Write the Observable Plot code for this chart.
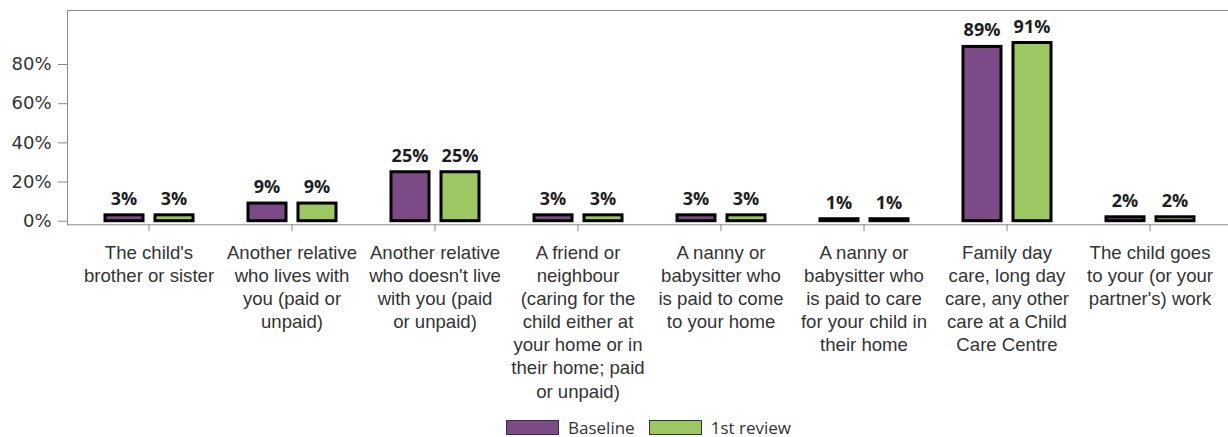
<!DOCTYPE html>
<html><head><meta charset="utf-8">
<script src="https://cdn.jsdelivr.net/npm/d3@7"></script>
<script src="https://cdn.jsdelivr.net/npm/@observablehq/plot@0.6"></script>
<style>
body{margin:0;background:#fff;}
#chart svg{display:block;overflow:hidden}
#chart g[aria-label="y-axis tick"] path, #chart g[aria-label="x-axis tick"] path{stroke:#888;}
#chart g[aria-label="y-axis tick label"], #chart g[aria-label="x-axis tick label"]{fill:#333;}
.legend{display:flex;align-items:center;justify-content:center;padding-left:69px;height:34px;font-family:"Open Sans";font-size:17px;color:#333;box-sizing:border-box}
.sw{width:51px;height:13px;border:1px solid #333;margin-right:9px}
.lab{margin-right:14px}
.lab:last-child{margin-right:0}
</style></head><body>
<div id="chart"></div>
<div class="legend" id="legend"></div>
<script>
const categories = [
  "The child's\nbrother or sister",
  "Another relative\nwho lives with\nyou (paid or\nunpaid)",
  "Another relative\nwho doesn't live\nwith you (paid\nor unpaid)",
  "A friend or\nneighbour\n(caring for the\nchild either at\nyour home or in\ntheir home; paid\nor unpaid)",
  "A nanny or\nbabysitter who\nis paid to come\nto your home",
  "A nanny or\nbabysitter who\nis paid to care\nfor your child in\ntheir home",
  "Family day\ncare, long day\ncare, any other\ncare at a Child\nCare Centre",
  "The child goes\nto your (or your\npartner's) work"
];
const seriesNames = ["Baseline", "1st review"];
const baselineValues = [3, 9, 25, 3, 3, 1, 89, 2];
const reviewValues = [3, 9, 25, 3, 3, 1, 91, 2];
const seriesColors = ["#7B4A87", "#9CC763"];
const yTicks = [0, 20, 40, 60, 80];
const yDomain = [-1.84, 107.6];

const baseRows = categories.map((c, i) => ({cat: c, series: seriesNames[0], value: baselineValues[i]}));
const revRows = categories.map((c, i) => ({cat: c, series: seriesNames[1], value: reviewValues[i]}));
const pct = d => d + "%";

const labelStyle = {x: "cat", y: "value", text: d => pct(d.value), lineAnchor: "bottom", dy: -10.5,
  fontWeight: "bold", fontSize: 18, fontFamily: "Open Sans", fill: "#1e1e1e"};

const plot = Plot.plot({
  width: 1228, height: 410,
  marginLeft: 67, marginRight: 0, marginTop: 10, marginBottom: 185.7,
  style: {fontFamily: "Liberation Sans", background: "#fff"},
  x: {domain: categories, padding: 0, insetLeft: 9.75, insetRight: 6.45, label: null},
  y: {domain: yDomain, label: null},
  color: {domain: seriesNames, range: seriesColors},
  marks: [
    Plot.frame({anchor: "top", stroke: "#8a8a8a"}),
    Plot.frame({anchor: "left", stroke: "#8a8a8a"}),
    Plot.frame({anchor: "bottom", stroke: "#8a8a8a"}),
    Plot.barY(baseRows, {x: "cat", y: "value", fill: "series", stroke: "#000", strokeWidth: 3, insetLeft: 28, insetRight: 77}),
    Plot.barY(revRows, {x: "cat", y: "value", fill: "series", stroke: "#000", strokeWidth: 3, insetLeft: 78, insetRight: 27}),
    Plot.text(baseRows, {...labelStyle, dx: -25}),
    Plot.text(revRows, {...labelStyle, dx: 25}),
    Plot.axisY({ticks: yTicks, tickFormat: pct, tickSize: 9, tickPadding: 7, fontSize: 18, fontFamily: "DejaVu Sans", label: null}),
    Plot.axisX({tickSize: 7, tickPadding: 11, fontSize: 18.6, fontFamily: "Liberation Sans", lineHeight: 1.24, label: null})
  ]
});
document.getElementById("chart").appendChild(plot);

const legend = document.getElementById("legend");
seriesNames.forEach((name, i) => {
  const sw = document.createElement("span");
  sw.className = "sw";
  sw.style.background = seriesColors[i];
  const lab = document.createElement("span");
  lab.className = "lab";
  lab.textContent = name;
  legend.appendChild(sw);
  legend.appendChild(lab);
});
</script>
</body></html>
